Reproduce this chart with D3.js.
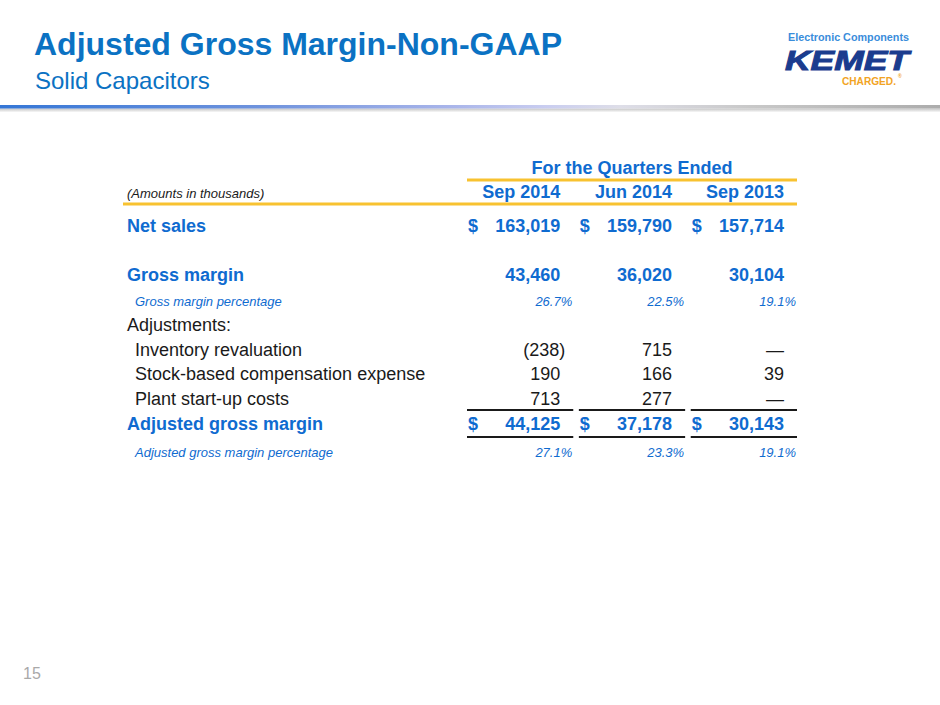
<!DOCTYPE html>
<html>
<head>
<meta charset="utf-8">
<script src="https://cdn.jsdelivr.net/npm/d3@7/dist/d3.min.js"></script>
<style>
  html, body { margin: 0; padding: 0; background: #fff; }
  svg { display: block; font-family: "Liberation Sans", Arial, sans-serif; }
</style>
</head>
<body>
<svg id="chart" width="940" height="705"></svg>
<script>
// ---- Data ----
const title = "Adjusted Gross Margin-Non-GAAP";
const subtitle = "Solid Capacitors";
const groupHeader = "For the Quarters Ended";
const unitsNote = "(Amounts in thousands)";
const quarters = ["Sep 2014", "Jun 2014", "Sep 2013"];
const netSales = [163019, 159790, 157714];
const grossMargin = [43460, 36020, 30104];
const grossMarginPct = [26.7, 22.5, 19.1];
const inventoryRevaluation = [-238, 715, null];
const stockBasedComp = [190, 166, 39];
const plantStartUp = [713, 277, null];
const adjustedGrossMargin = [44125, 37178, 30143];
const adjustedGrossMarginPct = [27.1, 23.3, 19.1];
const pageNumber = "15";

// row definitions (label, values, kind)
const rows = [
  { label: "Net sales", values: netSales, kind: "dollar" },
  { label: "Gross margin", values: grossMargin, kind: "bold" },
  { label: "Gross margin percentage", values: grossMarginPct, kind: "pct" },
  { label: "Adjustments:", values: null, kind: "plainHead" },
  { label: "Inventory revaluation", values: inventoryRevaluation, kind: "plain" },
  { label: "Stock-based compensation expense", values: stockBasedComp, kind: "plain" },
  { label: "Plant start-up costs", values: plantStartUp, kind: "plain" },
  { label: "Adjusted gross margin", values: adjustedGrossMargin, kind: "dollarTotal" },
  { label: "Adjusted gross margin percentage", values: adjustedGrossMarginPct, kind: "pct" }
];
const rowSlots = [0, 2, 3, 4, 5, 6, 7, 8, 9.1];

// ---- Styles ----
const BLUE = "#0f6bd0";
const TITLE_BLUE = "#0b72c3";
const ORANGE = "#f8c230";
const DARK = "#1a1a1a";

const svg = d3.select("#chart");
const defs = svg.append("defs");

// header rule gradient
const g1 = defs.append("linearGradient").attr("id", "rule").attr("x1", "0%").attr("x2", "100%");
[["0%", "#3476d6"], ["28%", "#6f93dd"], ["48%", "#a9b5ea"], ["58%", "#c9cdf0"], ["66%", "#dedee8"], ["80%", "#c8c8c8"], ["100%", "#acacac"]]
  .forEach(([o, c]) => g1.append("stop").attr("offset", o).attr("stop-color", c));
const g2 = defs.append("linearGradient").attr("id", "shadow").attr("x1", "0%").attr("x2", "0%").attr("y1", "0%").attr("y2", "100%");
g2.append("stop").attr("offset", "0%").attr("stop-color", "#c4c4c4");
g2.append("stop").attr("offset", "100%").attr("stop-color", "#ffffff");

svg.append("rect").attr("x", 0).attr("y", 108.5).attr("width", 940).attr("height", 4).attr("fill", "url(#shadow)");
svg.append("rect").attr("x", 0).attr("y", 105).attr("width", 940).attr("height", 3.5).attr("fill", "url(#rule)");

// Title
svg.append("text").attr("x", 34).attr("y", 55)
  .attr("font-size", 32).attr("font-weight", "bold").attr("fill", TITLE_BLUE).text(title);
svg.append("text").attr("x", 35).attr("y", 89)
  .attr("font-size", 24).attr("fill", TITLE_BLUE).text(subtitle);

// Logo
const logo = svg.append("g");
logo.append("text").attr("x", 788).attr("y", 41).attr("font-size", 10.8).attr("font-weight", "bold")
  .attr("fill", "#3a8ddb").attr("textLength", 121).attr("lengthAdjust", "spacingAndGlyphs")
  .text("Electronic Components");
logo.append("text").attr("x", 785).attr("y", 70).attr("font-size", 28).attr("font-weight", "900")
  .attr("font-style", "italic").attr("fill", "#1b3c8e").attr("textLength", 124)
  .attr("lengthAdjust", "spacingAndGlyphs").attr("stroke", "#1b3c8e").attr("stroke-width", 1)
  .text("KEMET");
logo.append("text").attr("x", 842).attr("y", 85).attr("font-size", 10.1).attr("font-weight", "bold")
  .attr("fill", "#f2a424").attr("textLength", 54).attr("lengthAdjust", "spacingAndGlyphs")
  .text("CHARGED.");
logo.append("text").attr("x", 898).attr("y", 78).attr("font-size", 5).attr("font-weight", "bold")
  .attr("fill", "#f2a424").text("®");

// ---- Table scales ----
const x = d3.scaleBand().domain(quarters).range([467, 797]).paddingInner(0.05);
const y = d3.scaleLinear().domain([0, 8]).range([231.5, 430]);
const labelX = 127;
const fmtNum = d3.format(",");
function fmtVal(v) {
  if (v === null || v === undefined) return "\u2014";
  if (v < 0) return "(" + fmtNum(-v) + ")";
  return fmtNum(v);
}
function fmtPct(v) { return d3.format(".1f")(v) + "%"; }

const t = svg.append("g");

// header
t.append("text").attr("x", (x.range()[0] + x.range()[1]) / 2).attr("y", 174)
  .attr("text-anchor", "middle").attr("font-size", 18).attr("font-weight", "bold").attr("fill", BLUE)
  .text(groupHeader);
t.append("line").attr("x1", x.range()[0]).attr("x2", x.range()[1]).attr("y1", 180).attr("y2", 180)
  .attr("stroke", ORANGE).attr("stroke-width", 3);
t.append("text").attr("x", labelX).attr("y", 198).attr("font-size", 13).attr("font-style", "italic")
  .attr("fill", DARK).text(unitsNote);
t.selectAll("text.qh").data(quarters).join("text").attr("class", "qh")
  .attr("x", d => x(d) + x.bandwidth() - 13).attr("y", 198).attr("text-anchor", "end")
  .attr("font-size", 18).attr("font-weight", "bold").attr("fill", BLUE).text(d => d);
t.append("line").attr("x1", 123).attr("x2", x.range()[1]).attr("y1", 204).attr("y2", 204)
  .attr("stroke", ORANGE).attr("stroke-width", 3);

// rows
rows.forEach((r, i) => {
  const yy = y(rowSlots[i]);
  const isPct = r.kind === "pct";
  const isBlueBold = ["dollar", "bold", "dollarTotal"].includes(r.kind);
  const isIndented = ["plain", "pct"].includes(r.kind);
  const lbl = t.append("text").attr("x", labelX + (isIndented ? 8 : 0)).attr("y", yy)
    .text(r.label);
  if (isPct) {
    lbl.attr("font-size", 13).attr("font-style", "italic").attr("fill", BLUE);
  } else if (isBlueBold) {
    lbl.attr("font-size", 18).attr("font-weight", "bold").attr("fill", BLUE);
  } else {
    lbl.attr("font-size", 18).attr("fill", DARK);
  }
  if (!r.values) return;
  quarters.forEach((q, j) => {
    const v = r.values[j];
    if (isPct) {
      t.append("text").attr("x", x(q) + x.bandwidth() - 1).attr("y", yy).attr("text-anchor", "end")
        .attr("font-size", 13).attr("font-style", "italic").attr("fill", BLUE).text(fmtPct(v));
    } else {
      const txt = t.append("text").attr("x", x(q) + x.bandwidth() - 13).attr("y", yy)
        .attr("text-anchor", "end").attr("font-size", 18).text(fmtVal(v));
      if (v !== null && v < 0) txt.attr("x", x(q) + x.bandwidth() - 8);
      if (isBlueBold) txt.attr("font-weight", "bold").attr("fill", BLUE);
      else txt.attr("fill", DARK);
      if (r.kind === "dollar" || r.kind === "dollarTotal") {
        t.append("text").attr("x", x(q) + 1).attr("y", yy).attr("font-size", 18)
          .attr("font-weight", "bold").attr("fill", BLUE).text("$");
      }
    }
  });
  if (r.kind === "dollarTotal") {
    quarters.forEach(q => {
      [yy - 20, yy + 7].forEach(ly => {
        t.append("line").attr("x1", x(q)).attr("x2", x(q) + x.bandwidth())
          .attr("y1", ly).attr("y2", ly).attr("stroke", DARK).attr("stroke-width", 2);
      });
    });
  }
});

// page number
svg.append("text").attr("x", 23).attr("y", 679).attr("font-size", 16).attr("fill", "#a9a9a9").text(pageNumber);
</script>
</body>
</html>
